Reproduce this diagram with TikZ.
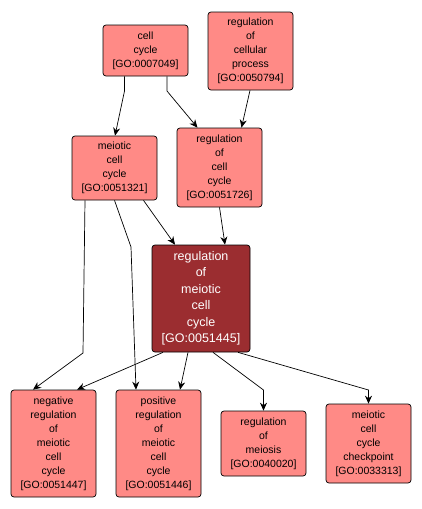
\documentclass[tikz,border=0pt]{standalone}
\usepackage{fontspec}
\setmainfont{Liberation Sans}
\usetikzlibrary{arrows.meta}
\definecolor{termfill}{RGB}{255,138,134}
\definecolor{focusfill}{RGB}{155,45,48}

\begin{document}
\begin{tikzpicture}[x=1pt,y=-1pt,line width=0.7pt,>={Stealth[length=8pt,width=7pt]},
  term/.style={draw=black,fill=termfill,rounded corners=3pt,align=center,inner sep=0pt,
    minimum width=85pt,font=\fontsize{10.5}{14}\selectfont},
  focus/.style={term,fill=focusfill,text=white,minimum width=98pt,font=\fontsize{12.5}{16.5}\selectfont}]
  \useasboundingbox (0,0) rectangle (421,509);
  % terminos de arriba
  \node[term,minimum height=51pt] (cc) at (145.5,50.5) {cell\\cycle\\{[GO:0007049]}};
  \node[term,minimum height=78pt] (rcp) at (250.5,51) {regulation\\of\\cellular\\process\\{[GO:0050794]}};
  \node[term,minimum height=64pt] (mcc) at (114.5,168) {meiotic\\cell\\cycle\\{[GO:0051321]}};
  \node[term,minimum height=79pt] (rcc) at (219.5,167.5) {regulation\\of\\cell\\cycle\\{[GO:0051726]}};
  % termino central
  \node[focus,minimum height=107pt] (rmcc) at (201,298.5) {regulation\\of\\meiotic\\cell\\cycle\\{[GO:0051445]}};
  % hijos
  \node[term,minimum height=107pt] (neg) at (53.5,443.5) {negative\\regulation\\of\\meiotic\\cell\\cycle\\{[GO:0051447]}};
  \node[term,minimum height=107pt] (pos) at (158.5,443.5) {positive\\regulation\\of\\meiotic\\cell\\cycle\\{[GO:0051446]}};
  \node[term,minimum height=65pt] (rm) at (263.5,443.5) {regulation\\of\\meiosis\\{[GO:0040020]}};
  \node[term,minimum height=79pt] (chk) at (368.5,443.5) {meiotic\\cell\\cycle\\checkpoint\\{[GO:0033313]}};
  % aristas
  \draw[->] ([xshift=-21pt]cc.south) -- (124.5,91) -- ([xshift=0.5pt]mcc.north);
  \draw[->] ([xshift=21.5pt]cc.south) -- (167,91) -- ([xshift=-22pt]rcc.north);
  \draw[->] ([xshift=-0.5pt]rcp.south) -- ([xshift=22pt]rcc.north);
  \draw[->] ([xshift=29pt]mcc.south) -- ([xshift=-26pt]rmcc.north);
  \draw[->] (rcc.south) -- ([xshift=24pt]rmcc.north);
  \draw[->] ([xshift=-29.5pt]mcc.south) -- (83,353) -- ([xshift=-20.5pt]neg.north);
  \draw[->] (mcc.south) -- (131,247) -- ([xshift=-22.5pt]pos.north);
  \draw[->] ([xshift=-38pt]rmcc.south) -- ([xshift=23.5pt]neg.north);
  \draw[->] ([xshift=-13pt]rmcc.south) -- ([xshift=21.5pt]pos.north);
  \draw[->] ([xshift=12pt]rmcc.south) -- (263.5,390) -- (rm.north);
  \draw[->] ([xshift=37pt]rmcc.south) -- (368.5,390) -- (chk.north);
\end{tikzpicture}
\end{document}
